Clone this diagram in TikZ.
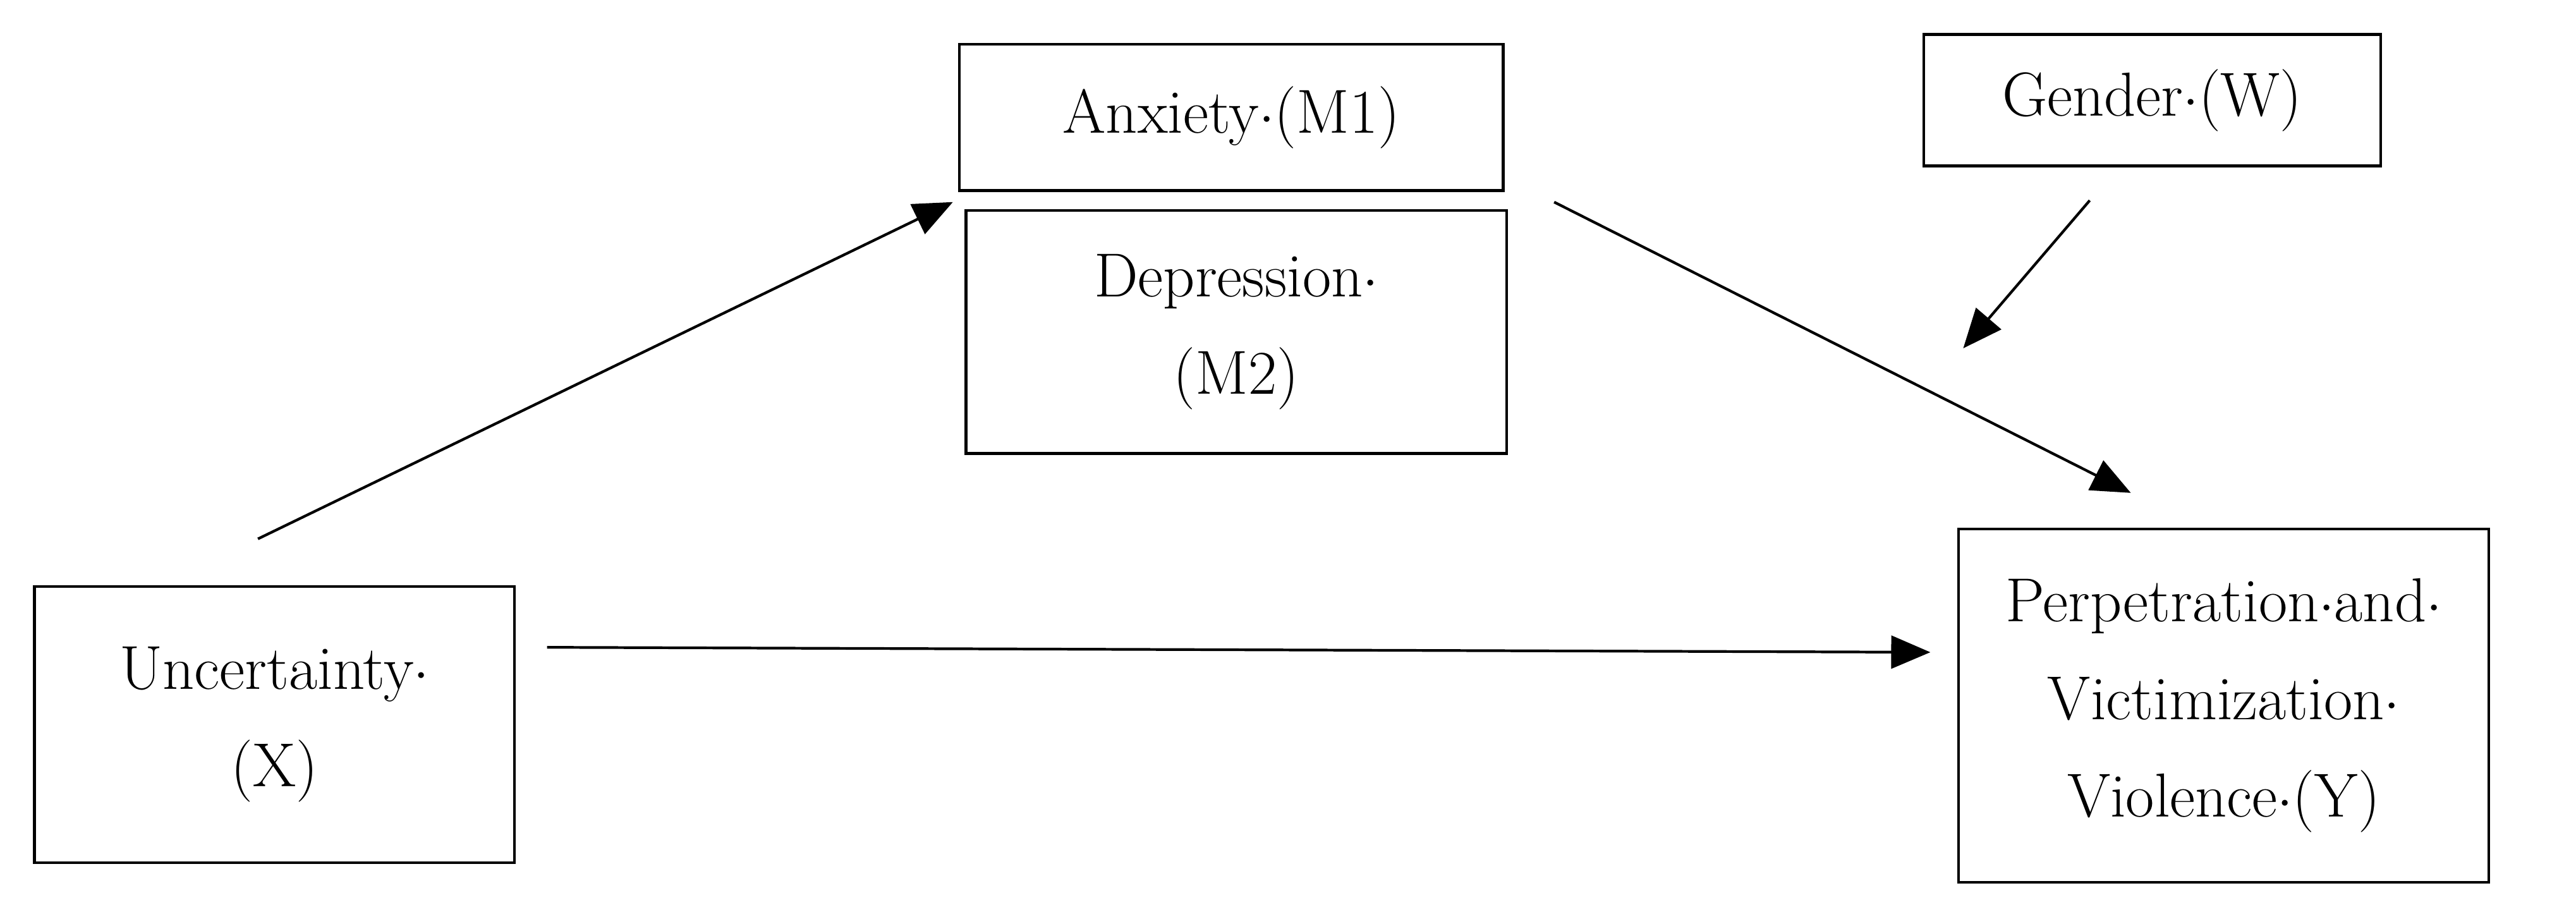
\documentclass[tikz,border=0pt]{standalone}
\usetikzlibrary{arrows.meta}
\begin{document}
\begin{tikzpicture}[x=0.026cm,y=-0.026cm,
  box/.style={draw,line width=1.2pt,inner sep=0pt,align=center,font=\fontsize{28}{44}\selectfont},
  arr/.style={line width=1.2pt,-{Triangle[length=0.62cm,width=0.52cm]}}]
\useasboundingbox (0,0) rectangle (1568,555);
\node[box,minimum width=331*0.026cm,minimum height=89*0.026cm] (m1) at (749.5,71.5) {Anxiety$\cdot$(M1)};
\node[box,minimum width=329*0.026cm,minimum height=148*0.026cm] (m2) at (752.5,202) {Depression$\cdot$\\(M2)};
\node[box,minimum width=278*0.026cm,minimum height=80*0.026cm] (w) at (1310,61) {Gender$\cdot$(W)};
\node[box,minimum width=292*0.026cm,minimum height=168*0.026cm] (x) at (167,441) {Uncertainty$\cdot$\\(X)};
\node[box,minimum width=323*0.026cm,minimum height=215*0.026cm] (y) at (1353.5,429.5) {Perpetration$\cdot$and$\cdot$\\Victimization$\cdot$\\Violence$\cdot$(Y)};
\coordinate (a1) at (333,394); \coordinate (a2) at (1175,397);
\coordinate (b1) at (157,328); \coordinate (b2) at (580,123);
\coordinate (c1) at (946,123); \coordinate (c2) at (1297,300);
\coordinate (d1) at (1272,122); \coordinate (d2) at (1195,212);
\draw[arr] (a1) -- (a2);
\draw[arr] (b1) -- (b2);
\draw[arr] (c1) -- (c2);
\draw[arr] (d1) -- (d2);
\end{tikzpicture}
\end{document}
